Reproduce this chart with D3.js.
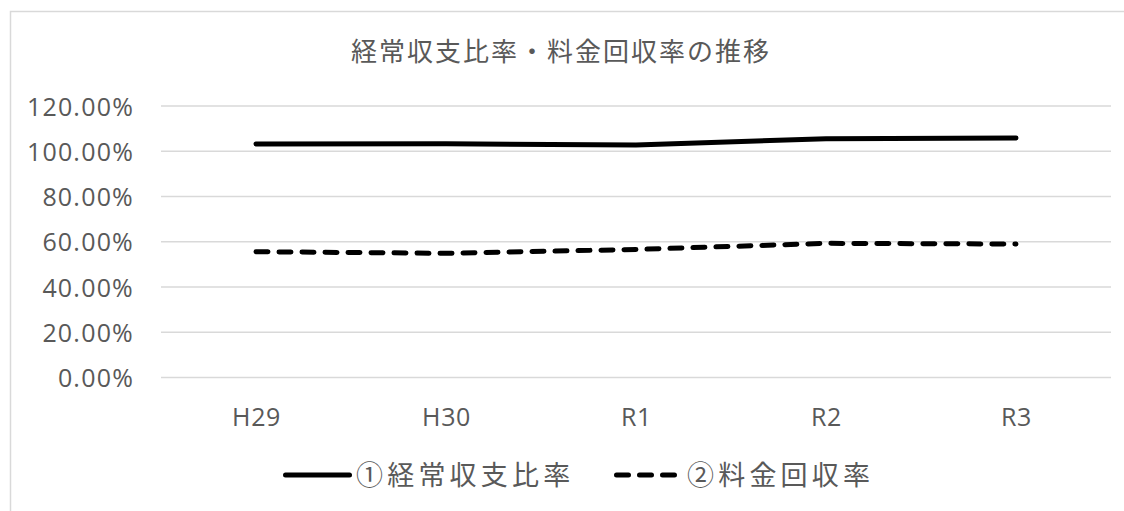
<!DOCTYPE html>
<html><head><meta charset="utf-8">
<script src="https://cdn.jsdelivr.net/npm/d3@7"></script>
<style>
body{margin:0;background:#fff;}
svg text{font-family:"Open Sans","Noto Sans CJK JP",sans-serif;fill:#595959;}
</style></head>
<body>
<svg id="c" width="1124" height="511"></svg>
<script>
const categories = ["H29","H30","R1","R2","R3"];
const ratio1 = [103.2, 103.3, 102.8, 105.5, 105.9]; // ①経常収支比率
const ratio2 = [55.6, 54.9, 56.6, 59.3, 59.0];      // ②料金回収率
const yTicks = [0,20,40,60,80,100,120];
const seriesNames = ["①経常収支比率","②料金回収率"];
const title = "経常収支比率・料金回収率の推移";

const svg = d3.select("#c");
svg.append("rect").attr("x",10.5).attr("y",11.5).attr("width",1124).attr("height",520)
  .attr("fill","#fff").attr("stroke","#d9d9d9").attr("stroke-width",1.5);

const x = d3.scalePoint().domain(categories).range([256,1016]);
const y = d3.scaleLinear().domain([0,120]).range([377.5,106]);

const grid = svg.append("g");
grid.selectAll("line").data(yTicks).enter().append("line")
  .attr("x1",161).attr("x2",1111).attr("y1",d=>y(d)).attr("y2",d=>y(d))
  .attr("stroke","#d9d9d9").attr("stroke-width",1.3);

const yAxis = d3.axisLeft(y).tickValues(yTicks).tickSize(0).tickPadding(0).tickFormat(d=>d.toFixed(2)+"%");
const ya = svg.append("g").attr("transform","translate(134,0)").call(yAxis);
ya.select(".domain").remove();
ya.selectAll("text").attr("font-size",25).attr("fill","#595959").attr("dy","0.36em")
  .style("letter-spacing","1.2px").style("font-family","'Open Sans',sans-serif");

const xAxis = d3.axisBottom(x).tickSize(0).tickPadding(0);
const xa = svg.append("g").attr("transform","translate(0,406)").call(xAxis);
xa.select(".domain").remove();
xa.selectAll("text").attr("font-size",25).attr("fill","#595959").attr("y",20).attr("dy","0")
  .style("letter-spacing","0.6px").style("font-family","'Open Sans',sans-serif");

const line = d3.line().x((d,i)=>x(categories[i])).y(d=>y(d));
svg.append("path").datum(ratio1).attr("d",line).attr("fill","none")
  .attr("stroke","#000").attr("stroke-width",5).attr("stroke-linecap","round").attr("stroke-linejoin","round");
svg.append("path").datum(ratio2).attr("d",line).attr("fill","none")
  .attr("stroke","#000").attr("stroke-width",5).attr("stroke-dasharray","12,11").attr("stroke-linecap","round");

svg.append("text").attr("x",561).attr("y",61).attr("text-anchor","middle")
  .attr("font-size",26).style("letter-spacing","2px")
  .style("font-family","'Noto Sans CJK JP',sans-serif").text(title);

// legend
const lg = svg.append("g");
lg.append("line").attr("x1",285.5).attr("x2",349.5).attr("y1",475).attr("y2",475)
  .attr("stroke","#000").attr("stroke-width",5).attr("stroke-linecap","round");
lg.append("text").attr("x",356).attr("y",485).attr("font-size",27).style("letter-spacing","4.2px")
  .style("font-family","'Noto Sans CJK JP',sans-serif").text(seriesNames[0]);
lg.append("line").attr("x1",616.5).attr("x2",677).attr("y1",475).attr("y2",475)
  .attr("stroke","#000").attr("stroke-width",5).attr("stroke-dasharray","12,11").attr("stroke-linecap","round");
lg.append("text").attr("x",687).attr("y",485).attr("font-size",27).style("letter-spacing","4.2px")
  .style("font-family","'Noto Sans CJK JP',sans-serif").text(seriesNames[1]);
</script>
</body></html>
